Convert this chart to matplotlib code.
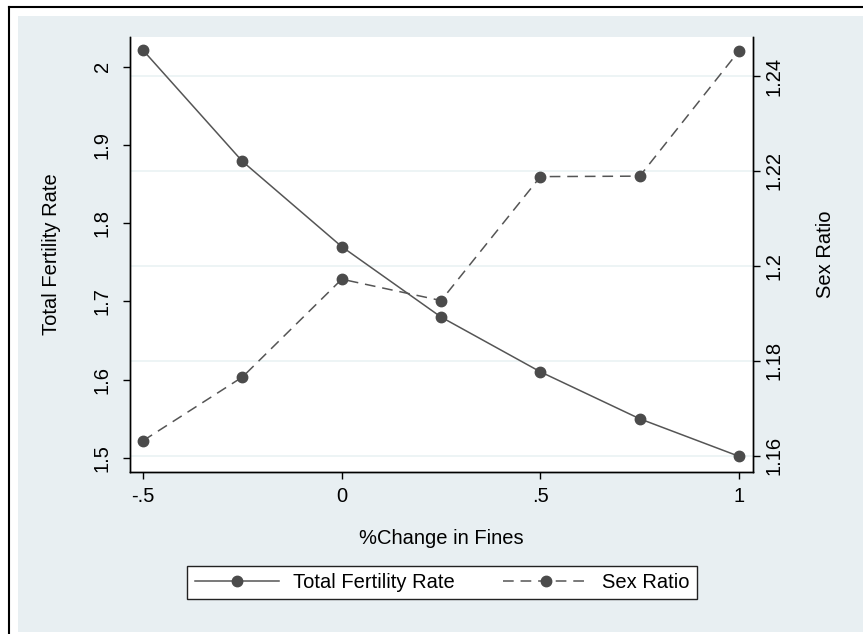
import matplotlib
matplotlib.use('Agg')
import matplotlib.pyplot as plt
from matplotlib.patches import Rectangle
from matplotlib.lines import Line2D

# data
fine_change = [-0.5, -0.25, 0, 0.25, 0.5, 0.75, 1]
tfr = [2.021, 1.879, 1.770, 1.680, 1.610, 1.550, 1.502]
sex_ratio = [1.1632, 1.1766, 1.1972, 1.1927, 1.2188, 1.2189, 1.2453]

x_ticks = [-0.5, 0, 0.5, 1]
x_ticklabels = ['-.5', '0', '.5', '1']
tfr_ticks = [1.5, 1.6, 1.7, 1.8, 1.9, 2.0]
tfr_ticklabels = ['1.5', '1.6', '1.7', '1.8', '1.9', '2']
sr_ticks = [1.16, 1.18, 1.20, 1.22, 1.24]
sr_ticklabels = ['1.16', '1.18', '1.2', '1.22', '1.24']

# colours
BG = '#E8EFF2'
LINE = '#555555'
MARK = '#4B4B4B'
GRID = '#EAF2F3'

plt.rcParams['font.family'] = ['Liberation Sans', 'DejaVu Sans']
plt.rcParams['font.size'] = 14.5

W, H = 863, 634
fig = plt.figure(figsize=(W / 100, H / 100), dpi=100)
fig.patch.set_facecolor('white')

# light outer region + black frame lines (left and top)
fig.patches.append(Rectangle((18 / W, 1 - 632 / H), (W - 18) / W, (632 - 16) / H,
                             transform=fig.transFigure, facecolor=BG, edgecolor='none', zorder=-5))
fig.lines.append(Line2D([9 / W, 9 / W], [0, 1 - 7 / H], transform=fig.transFigure,
                        color='black', lw=1.5, zorder=-4))
fig.lines.append(Line2D([9 / W, 1], [1 - 7 / H, 1 - 7 / H], transform=fig.transFigure,
                        color='black', lw=1.5, zorder=-4))

left, right, top, bottom = 130, 753, 37, 472
ax = fig.add_axes([left / W, 1 - bottom / H, (right - left) / W, (bottom - top) / H])
ax2 = ax.twinx()

# TFR axis on top of the sex-ratio axis (which holds background + grid)
ax.set_zorder(ax2.get_zorder() + 1)
ax.patch.set_visible(False)
ax2.patch.set_visible(True)
ax2.patch.set_facecolor('white')

ax.plot(fine_change, tfr, color=LINE, lw=1.1, marker='o', markersize=7.5,
        markerfacecolor=MARK, markeredgecolor=MARK, label='Total Fertility Rate')
ax2.plot(fine_change, sex_ratio, color=LINE, lw=1.1, dashes=(7, 4.5), marker='o',
         markersize=7.5, markerfacecolor=MARK, markeredgecolor=MARK, label='Sex Ratio')

ax.set_xlim(-0.533, 1.035)
ax.set_ylim(1.482, 2.038)
ax2.set_ylim(1.1566, 1.2482)

ax.set_xticks(x_ticks)
ax.set_xticklabels(x_ticklabels)
ax.set_yticks(tfr_ticks)
ax.set_yticklabels(tfr_ticklabels, rotation=90, va='center')
ax2.set_yticks(sr_ticks)
ax2.set_yticklabels(sr_ticklabels, rotation=90, va='center')

ax2.grid(axis='y', color=GRID, lw=1.2)
ax2.set_axisbelow(True)

for a in (ax, ax2):
    a.spines['top'].set_visible(False)
    for s in ('left', 'right', 'bottom'):
        a.spines[s].set_linewidth(1.0)
        a.spines[s].set_color('black')
ax.tick_params(axis='x', length=5, width=1, pad=6)
ax.tick_params(axis='y', length=5, width=1, pad=8)
ax2.tick_params(axis='y', length=5, width=1, pad=3)

ax.set_xlabel('%Change in Fines')
ax.xaxis.set_label_coords(0.5, (bottom - 538) / (bottom - top), transform=ax.transAxes)
ax.xaxis.label.set_va('center')
ax.set_ylabel('Total Fertility Rate')
ax.yaxis.set_label_coords((52 - left) / (right - left), 0.5)
ax.yaxis.label.set_va('center')
ax2.set_ylabel('Sex Ratio', rotation=90)
ax2.yaxis.set_label_coords((825 - left) / (right - left), 0.5)
ax2.yaxis.label.set_va('center')

h1, l1 = ax.get_legend_handles_labels()
h2, l2 = ax2.get_legend_handles_labels()
leg = ax.legend(h1 + h2, l1 + l2, loc='center', ncol=2,
                bbox_to_anchor=((442 - left) / (right - left), (bottom - 582.5) / (bottom - top)),
                frameon=True, fancybox=False, edgecolor='#222222', facecolor='white',
                framealpha=1, handlelength=4.2, handletextpad=0.7, columnspacing=2.4,
                borderpad=0.35)
leg.get_frame().set_linewidth(1.0)

fig.savefig('out.png', dpi=100)
